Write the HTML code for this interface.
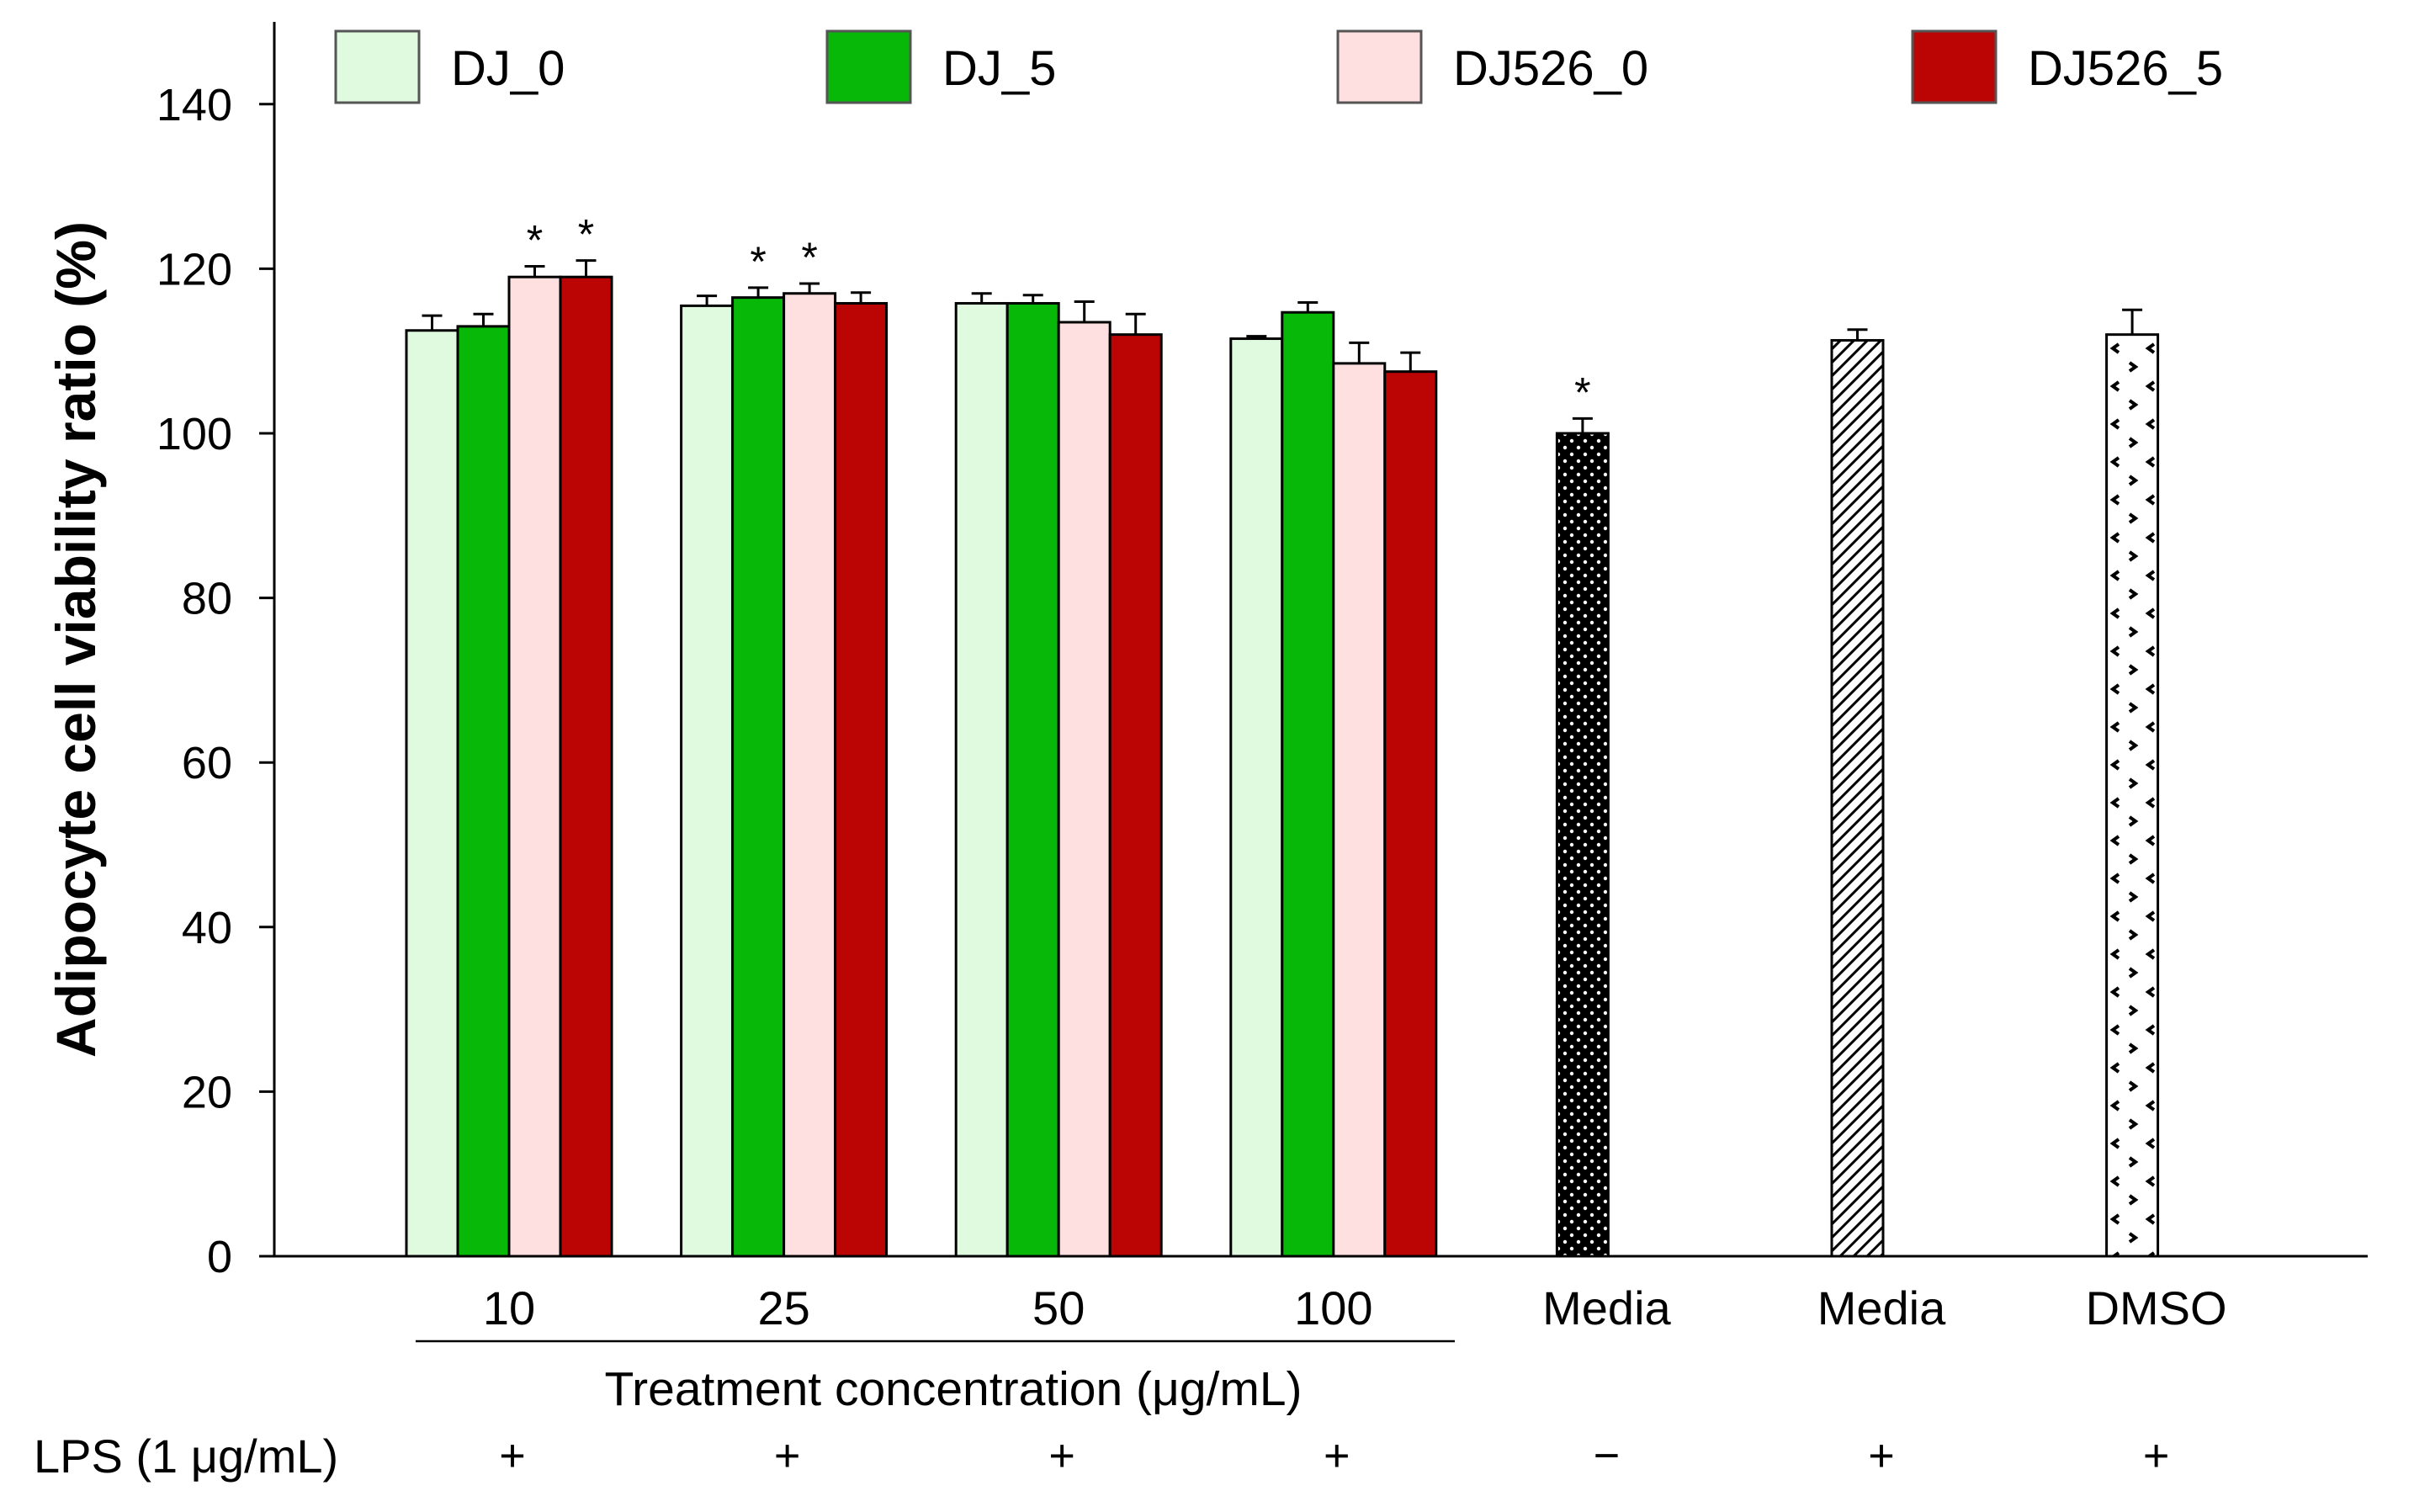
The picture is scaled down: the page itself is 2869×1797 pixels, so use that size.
<!DOCTYPE html>
<html><head><meta charset="utf-8"><style>
body{margin:0;background:#fff}
svg text{font-family:"Liberation Sans",sans-serif;fill:#000}
</style></head><body>
<svg id="c" width="2869" height="1792" viewBox="0 0 2869 1792">
<defs>
<pattern id="dots" width="16" height="16" patternUnits="userSpaceOnUse"><rect width="16" height="16" fill="#000"/><circle cx="4" cy="4" r="2.2" fill="#fff"/><circle cx="12" cy="12" r="2.2" fill="#fff"/></pattern>
<pattern id="hatch" width="16" height="16" patternUnits="userSpaceOnUse"><rect width="16" height="16" fill="#fff"/><path d="M-4,20 L20,-4 M-4,4 L4,-4 M12,20 L20,12" stroke="#000" stroke-width="3"/></pattern>
<pattern id="chev" x="2504" y="0" width="61" height="45" patternUnits="userSpaceOnUse"><rect width="61" height="45" fill="#fff"/><path d="M14,4 L7,9 L14,14 M27,26 L34,31 L27,36 M56,4 L49,9 L56,14" stroke="#000" stroke-width="4" fill="none"/></pattern>
</defs>
<g id="g"></g>
</svg>
<script>
const categories=["10","25","50","100","Media","Media","DMSO"];
const lps=["+","+","+","+","\u2212","+","+"];
const series=["DJ_0","DJ_5","DJ526_0","DJ526_5"];
const colors=["#e0fae0","#08b808","#ffe0e0","#bb0505"];
const dj0=[112.5,115.5,115.8,111.5];
const dj5=[113,116.5,115.8,114.7];
const dj5260=[119,117,113.5,108.5];
const dj5265=[119,115.8,112,107.5];
const err0=[1.8,1.2,1.2,0.3];
const err5=[1.5,1.2,1.0,1.2];
const err26=[1.3,1.2,2.5,2.5];
const err265=[2.0,1.3,2.5,2.3];
const ctrlValues=[100,111.3,112];
const ctrlErr=[1.8,1.3,3];
const ctrlFills=["url(#dots)","url(#hatch)","url(#chev)"];
const stars0=[false,false,false,false];
const stars5=[false,true,false,false];
const stars26=[true,true,false,false];
const stars265=[true,false,false,false];
const ctrlStars=[true,false,false];
const yTicks=[0,20,40,60,80,100,120,140];

const NS="http://www.w3.org/2000/svg";
const g=document.getElementById('g');
function el(t,a,txt){const e=document.createElementNS(NS,t);for(const k in a)e.setAttribute(k,a[k]);if(txt!==undefined)e.textContent=txt;g.appendChild(e);return e;}
const x0=326,y0=1493,ppu=195.6/20;
const y=v=>y0-v*ppu;
const slot=i=>605+i*326.6;
const bw=61;

let a=el('line',{x1:x0,y1:26,x2:x0,y2:y0,stroke:'#000','stroke-width':3});

a=el('line',{x1:x0,y1:y0,x2:2814,y2:y0,stroke:'#000','stroke-width':3});

yTicks.forEach(t=>{
  let l=el('line',{x1:x0-18,y1:y(t),x2:x0,y2:y(t),stroke:'#000','stroke-width':3});
  
  let tx=el('text',{x:x0-50,y:y(t)+19,'font-size':54,'text-anchor':'end'},t);
  
});
let yt=el('text',{x:0,y:0,'font-size':66,'font-weight':'bold','text-anchor':'middle',transform:'translate(113,760) rotate(-90)'},'Adipocyte cell viability ratio (%)');


function bar(left,v,e,fill,star,name){
  const r=el('rect',{x:left,y:y(v),width:bw,height:y0-y(v),fill:fill,stroke:'#000','stroke-width':3});
  
  const cx=left+bw/2,top=y(v+e);
  const eb=el('path',{d:`M${cx},${y(v)}V${top}M${cx-12},${top}H${cx+12}`,stroke:'#000','stroke-width':3,fill:'none'});
  
  if(star){const s=el('text',{x:cx,y:top-14,'font-size':50,'text-anchor':'middle'},'*');
    }
}
const vals=[dj0,dj5,dj5260,dj5265],errs=[err0,err5,err26,err265],sts=[stars0,stars5,stars26,stars265];
for(let i=0;i<4;i++){
  for(let s=0;s<4;s++){
    bar(slot(i)-2*bw+s*bw,vals[s][i],errs[s][i],colors[s],sts[s][i],'bar-'+series[s].toLowerCase().replace('_','-')+'-'+categories[i]);
  }
}
for(let j=0;j<3;j++){
  bar(slot(4+j)-bw,ctrlValues[j],ctrlErr[j],ctrlFills[j],ctrlStars[j],'bar-control-'+categories[4+j].toLowerCase()+'-'+j);
}
categories.forEach((c,i)=>{
  let t=el('text',{x:slot(i)+(i>=4?-2:0),y:1574,'font-size':56,'text-anchor':'middle'},c);
  
  let p=el('text',{x:slot(i)+4-(i>=4?6:0),y:1748,'font-size':54,'text-anchor':'middle'},lps[i]);
  
});
let ul=el('line',{x1:494,y1:1594,x2:1729,y2:1594,stroke:'#000','stroke-width':2.5});

let xt=el('text',{x:1133,y:1670,'font-size':57,'text-anchor':'middle'},'Treatment concentration (\u03bcg/mL)');

let lp=el('text',{x:40,y:1750,'font-size':56},'LPS (1 \u03bcg/mL)');

const legX=[399,983,1590,2273];
series.forEach((s,i)=>{
  let r=el('rect',{x:legX[i],y:37,width:99,height:85,fill:colors[i],stroke:'#555','stroke-width':3});
  
  let t=el('text',{x:legX[i]+137,y:101,'font-size':58},s);
  
});
</script>
</body></html>
